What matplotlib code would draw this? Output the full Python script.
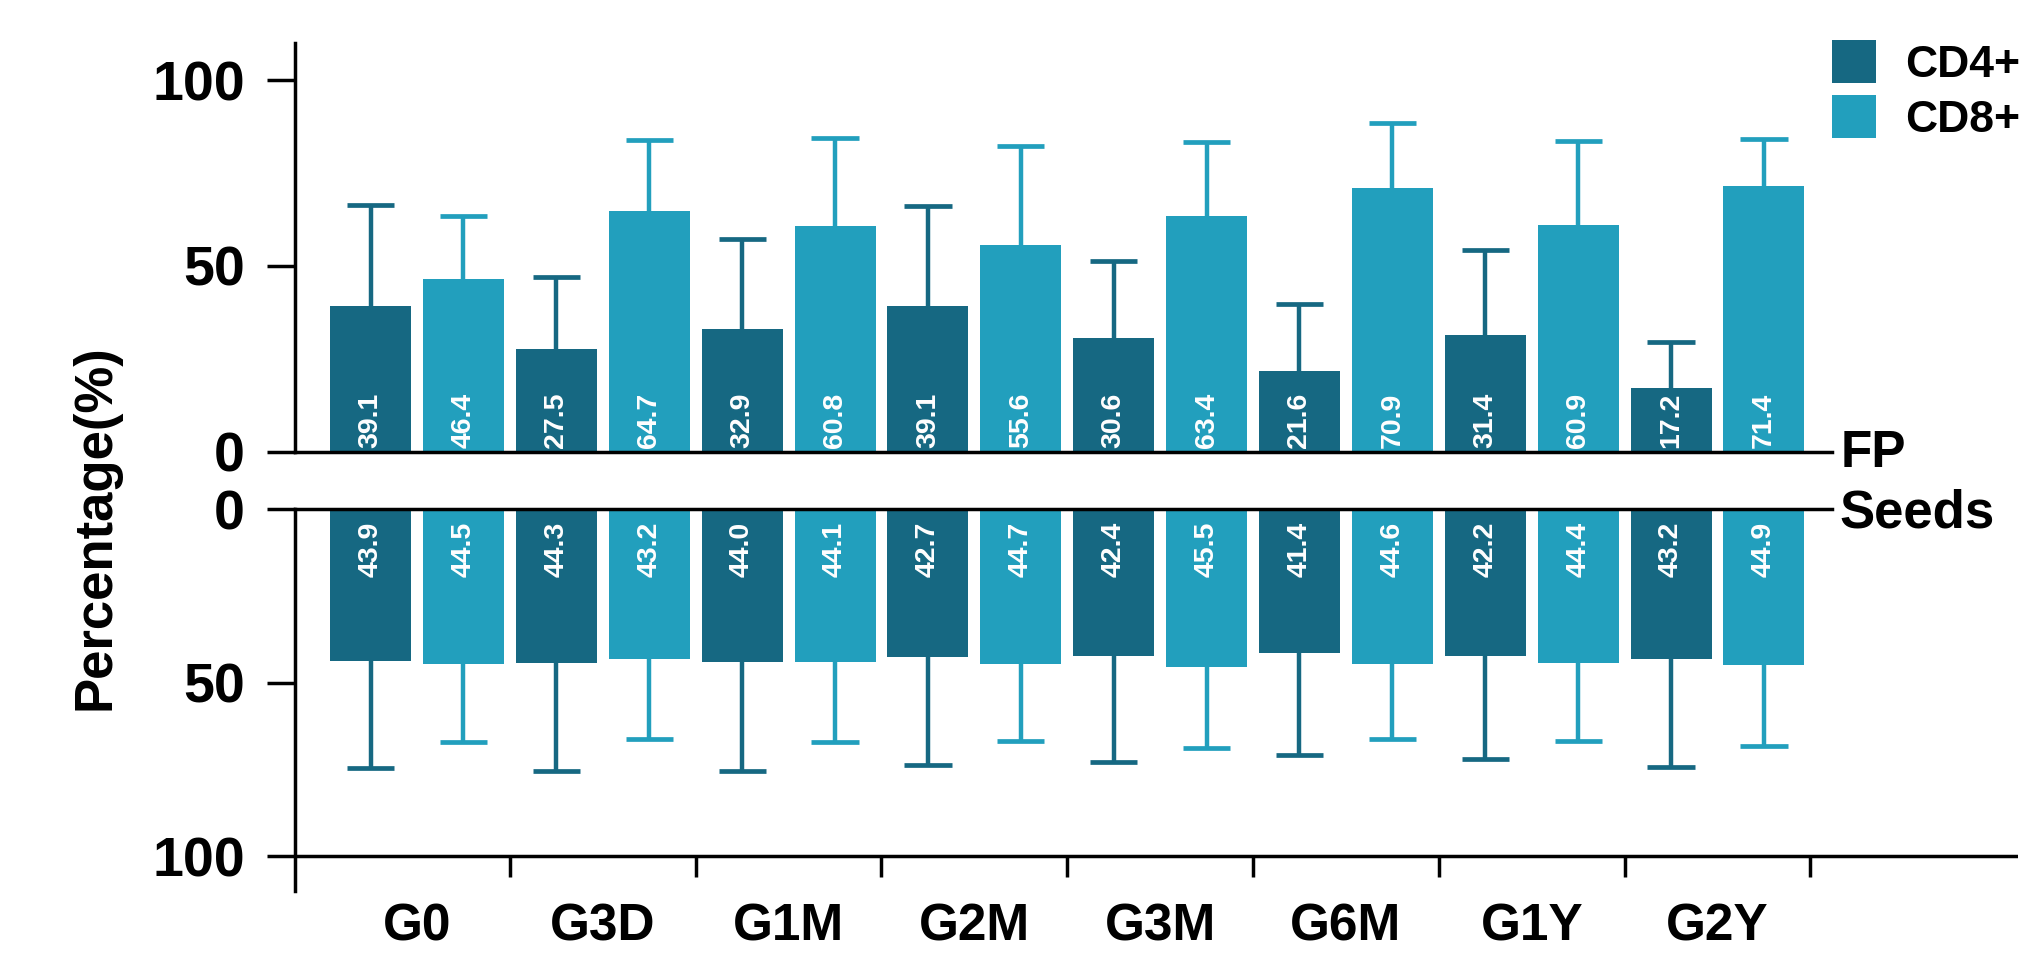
import numpy as np
import matplotlib
matplotlib.use("Agg")
import matplotlib.pyplot as plt
from matplotlib.patches import Patch

plt.rcParams['font.family'] = ['Liberation Sans', 'DejaVu Sans']

groups = ["G0", "G3D", "G1M", "G2M", "G3M", "G6M", "G1Y", "G2Y"]

# FP panel (upper)
fp_cd4 = [39.1, 27.5, 32.9, 39.1, 30.6, 21.6, 31.4, 17.2]
fp_cd4_sd = [27.4, 19.4, 24.2, 27.0, 20.6, 18.2, 22.8, 12.2]
fp_cd8 = [46.4, 64.7, 60.8, 55.6, 63.4, 70.9, 60.9, 71.4]
fp_cd8_sd = [17.1, 19.3, 23.7, 26.7, 20.0, 17.6, 22.6, 12.7]

# Seeds panel (lower, drawn downward)
seeds_cd4 = [43.9, 44.3, 44.0, 42.7, 42.4, 41.4, 42.2, 43.2]
seeds_cd4_sd = [30.6, 31.1, 31.3, 30.9, 30.4, 29.4, 29.8, 31.2]
seeds_cd8 = [44.5, 43.2, 44.1, 44.7, 45.5, 44.6, 44.4, 44.9]
seeds_cd8_sd = [22.6, 23.0, 23.0, 22.2, 23.4, 21.5, 22.3, 23.3]

c4 = "#166882"
c8 = "#229fbd"
lw = 2.5
xmin, xmax = -0.657, 8.617
line_end = 7.616

fig = plt.figure(figsize=(20.34, 9.55), dpi=100)
ax_top = fig.add_axes([0.1450, 0.5272, 0.8471, 0.4277])
ax_bot = fig.add_axes([0.1450, 0.0670, 0.8471, 0.4000])

x = np.arange(len(groups))
w = 0.436
off = 0.25
cap = 0.127


def draw_panel(ax, v4, s4, v8, s8, label_pos):
    for vals, sds, dx, col in [(v4, s4, -off, c4), (v8, s8, off, c8)]:
        xs = x + dx
        vals = np.array(vals)
        tops = vals + np.array(sds)
        ax.bar(xs, vals, width=w, color=col, zorder=2)
        # one-sided SD whiskers, cap only at the far end
        ax.vlines(xs, vals, tops, color=col, lw=3.2, zorder=1)
        ax.hlines(tops, xs - cap, xs + cap, color=col, lw=3.4, zorder=1)
        for xi, v in zip(xs, vals):
            ax.text(xi, label_pos, f"{v:.1f}", rotation=90, ha='center', va='bottom',
                    color='white', fontsize=20.5, fontweight='bold', zorder=3)
    ax.set_xlim(xmin, xmax)
    ax.set_xticks([])
    ax.set_yticks([0, 50, 100])
    ax.tick_params(axis='y', length=20, width=lw, pad=16)
    for t in ax.get_yticklabels():
        t.set_fontweight('bold')
        t.set_fontsize(40)
    ax.spines['right'].set_visible(False)
    ax.spines['left'].set_linewidth(lw)


draw_panel(ax_top, fp_cd4, fp_cd4_sd, fp_cd8, fp_cd8_sd, 1.0)
ax_top.set_ylim(0, 110)
ax_top.spines['top'].set_visible(False)
ax_top.spines['bottom'].set_linewidth(lw)
ax_top.spines['bottom'].set_bounds(xmin, line_end)

draw_panel(ax_bot, seeds_cd4, seeds_cd4_sd, seeds_cd8, seeds_cd8_sd, 19.6)
ax_bot.set_ylim(110, 0)
ax_bot.spines['bottom'].set_visible(False)
ax_bot.spines['top'].set_linewidth(lw)
ax_bot.spines['top'].set_bounds(xmin, line_end)
ax_bot.axhline(100, color='black', lw=lw, zorder=4)
ax_bot.vlines(x + 0.5, 100, 106, color='black', lw=lw, zorder=4)
for xi, g in zip(x, groups):
    ax_bot.text(xi, 113.3, g, ha='center', va='top', fontsize=37, fontweight='bold')

fig.text(96 / 2034, 1 - 527 / 955, "Percentage(%)", rotation=90, ha='center', va='center',
         fontsize=38, fontweight='bold')
fig.text(1841 / 2034, 1 - 467 / 955, "FP", ha='left', va='baseline', fontsize=37, fontweight='bold')
fig.text(1839 / 2034, 1 - 528 / 955, "Seeds", ha='left', va='baseline', fontsize=38, fontweight='bold')

handles = [Patch(facecolor=c4), Patch(facecolor=c8)]
fig.legend(handles, ["CD4+", "CD8+"], loc='upper left', bbox_to_anchor=(0.9007, 0.958),
           frameon=False, prop=dict(weight='bold', size=32), handlelength=1.0,
           handleheight=1.1, handletextpad=0.65, labelspacing=0.22,
           borderpad=0, borderaxespad=0)

fig.savefig("out.png", dpi=100)
